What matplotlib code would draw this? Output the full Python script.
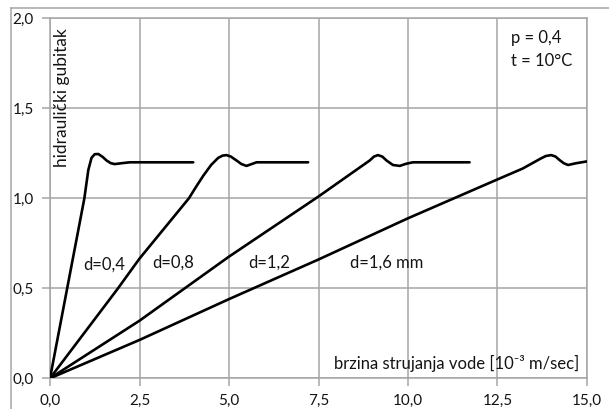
import numpy as np
import matplotlib
matplotlib.use("Agg")
import matplotlib.pyplot as plt
from matplotlib.lines import Line2D
from matplotlib.ticker import FuncFormatter

plt.rcParams['font.family'] = ['Lato', 'DejaVu Sans']

# measured curves, one per grain size d
x_d04 = [0, 0.48, 0.96, 1.07, 1.16, 1.25, 1.35, 1.47, 1.58, 1.7, 1.81, 2.0, 2.23, 4.0]
y_d04 = [0, 0.50, 1.00, 1.157, 1.225, 1.245, 1.246, 1.23, 1.21, 1.195, 1.19, 1.195, 1.20, 1.20]

x_d08 = [0, 1.9, 2.5, 3.88, 4.1, 4.28, 4.5, 4.7, 4.82, 4.93, 5.05, 5.21, 5.35, 5.49, 5.63, 5.77, 7.21]
y_d08 = [0, 0.50, 0.665, 1.00, 1.07, 1.125, 1.185, 1.225, 1.237, 1.24, 1.232, 1.21, 1.19, 1.18, 1.19, 1.20, 1.20]

x_d12 = [0, 2.5, 5.0, 7.5, 8.5, 8.93, 9.05, 9.16, 9.28, 9.40, 9.58, 9.77, 9.95, 10.14, 11.72]
y_d12 = [0, 0.32, 0.676, 1.01, 1.15, 1.21, 1.232, 1.24, 1.232, 1.21, 1.185, 1.18, 1.192, 1.20, 1.20]

x_d16 = [0, 2.5, 5.0, 7.5, 10.0, 12.5, 13.2, 13.7, 13.85, 14.0, 14.12, 14.23, 14.35, 14.47, 14.7, 15.0]
y_d16 = [0, 0.213, 0.44, 0.66, 0.889, 1.105, 1.165, 1.22, 1.235, 1.24, 1.232, 1.213, 1.195, 1.185, 1.195, 1.205]

curve_labels = ['d=0,4', 'd=0,8', 'd=1,2', 'd=1,6 mm']
label_x = [0.92, 2.87, 5.55, 8.37]
label_y = [0.63, 0.645, 0.645, 0.645]

x_ticks = [0, 2.5, 5.0, 7.5, 10.0, 12.5, 15.0]
y_ticks = [0, 0.5, 1.0, 1.5, 2.0]

grid_c = '#a6a6a6'
txt_c = '#141414'

fig = plt.figure(figsize=(6.09, 4.09), dpi=100)
ax = fig.add_axes([50 / 609, 1 - 378.3 / 409, 537 / 609, 360 / 409])

for xs, ys in [(x_d04, y_d04), (x_d08, y_d08), (x_d12, y_d12), (x_d16, y_d16)]:
    ax.plot(xs, ys, color='black', lw=1.9, solid_joinstyle='round',
            solid_capstyle='round', zorder=3)

ax.set_xlim(0, 15)
ax.set_ylim(0, 2)
ax.set_xticks(x_ticks)
ax.set_yticks(y_ticks)
fmt = FuncFormatter(lambda v, p: ('%.1f' % v).replace('.', ','))
ax.xaxis.set_major_formatter(fmt)
ax.yaxis.set_major_formatter(fmt)
ax.grid(True, color=grid_c, lw=1.1)
ax.set_axisbelow(True)
for s in ax.spines.values():
    s.set_color(grid_c)
    s.set_linewidth(1.1)
ax.tick_params(direction='out', length=5.5, width=1.1, color=grid_c,
               labelsize=11, labelcolor=txt_c, pad=6)

for lab, lx, ly in zip(curve_labels, label_x, label_y):
    ax.text(lx, ly, lab, fontsize=12, color=txt_c, ha='left', va='center')

ax.text(12.87, 1.89, 'p = 0,4', fontsize=12, color=txt_c, va='center')
ax.text(12.87, 1.763, 't = 10°C', fontsize=12, color=txt_c, va='center')

ax.text(0.335, 1.946, 'hidraulički gubitak', fontsize=12.5, color=txt_c,
        rotation=90, ha='center', va='top')
ax.text(14.79, 0.085, 'brzina strujanja vode [10⁻³ m/sec]', fontsize=12,
        color=txt_c, ha='right', va='center')

# chart frame
fig.add_artist(Line2D([11 / 609, 1.0], [1 - 8 / 409] * 2, color=grid_c, lw=1.1,
                      transform=fig.transFigure))
fig.add_artist(Line2D([11 / 609] * 2, [0.0, 1 - 8 / 409], color=grid_c, lw=1.1,
                      transform=fig.transFigure))

fig.savefig('out.png', dpi=100)
